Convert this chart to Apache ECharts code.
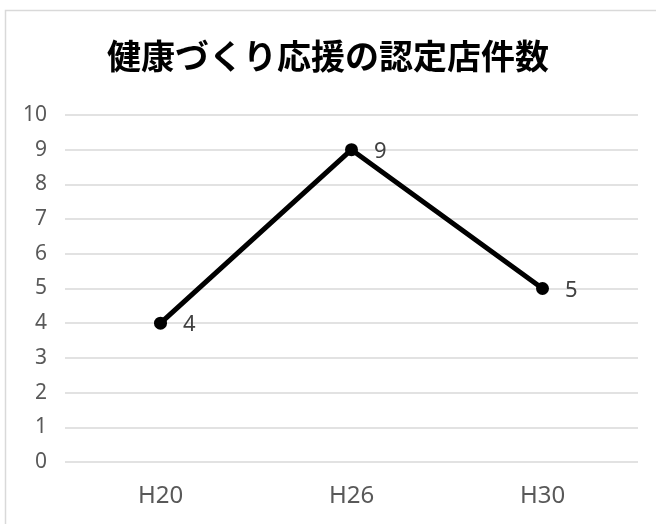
<!DOCTYPE html>
<html>
<head>
<meta charset="utf-8">
<style>
  html, body { margin: 0; padding: 0; background: #fff; }
  #chart { width: 656px; height: 524px; }
</style>
<script src="https://cdn.jsdelivr.net/npm/echarts@6/dist/echarts.min.js"></script>
</head>
<body>
<div id="chart"></div>
<script>
var titleText = '健康づくり応援の認定店件数'
var categories = ['H20', 'H26', 'H30']
var counts = [4, 9, 5]

var chart = echarts.init(document.getElementById('chart'))
chart.setOption({
  animation: false,
  graphic: [{
    type: 'rect',
    shape: { x: 5.5, y: 10.5, width: 700, height: 600 },
    style: { fill: 'none', stroke: '#d9d9d9', lineWidth: 1.5 },
    silent: true
  }],
  title: {
    text: titleText,
    left: 'center',
    top: 34,
    textStyle: {
      fontFamily: 'Noto Sans CJK JP',
      fontSize: 34,
      fontWeight: 'bold',
      color: '#000'
    }
  },
  grid: { left: 65, right: 18, top: 115, bottom: 62 },
  xAxis: {
    type: 'category',
    data: categories,
    boundaryGap: true,
    axisLine: { show: false },
    axisTick: { show: false },
    axisLabel: {
      margin: 22,
      fontFamily: 'Noto Sans',
      fontSize: 24,
      color: '#595959'
    }
  },
  yAxis: {
    type: 'value',
    min: 0,
    max: 10,
    interval: 1,
    axisLine: { show: false },
    axisTick: { show: false },
    axisLabel: {
      margin: 18,
      fontFamily: 'Noto Sans',
      fontSize: 21,
      color: '#595959'
    },
    splitLine: { lineStyle: { color: '#d9d9d9', width: 1.5 } }
  },
  series: [{
    type: 'line',
    data: counts,
    lineStyle: { color: '#000', width: 5 },
    itemStyle: { color: '#000' },
    symbol: 'circle',
    symbolSize: 13,
    label: {
      show: true,
      position: 'right',
      distance: 16,
      offset: [0, 2],
      fontFamily: 'Noto Sans',
      fontSize: 22,
      color: '#404040'
    }
  }]
})
</script>
</body>
</html>
